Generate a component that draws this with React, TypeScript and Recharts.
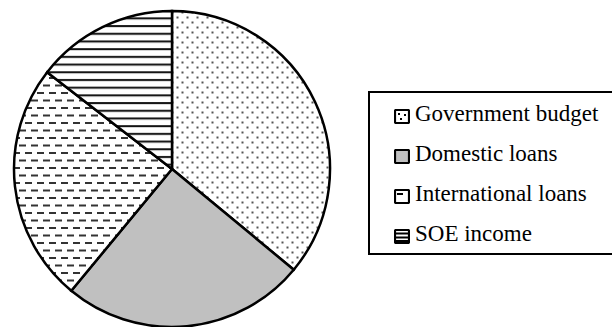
import { PieChart, Pie, Cell, Legend } from 'recharts';

// shares of financing
const categories = ['Government budget', 'Domestic loans', 'International loans', 'SOE income'];
const shares = [36, 25, 24.5, 14.5];
const fills = ['url(#dots)', '#c0c0c0', 'url(#dashes)', 'url(#hlines)'];

const chartData = categories.map((name, i) => ({ name, value: shares[i] }));

const serif = "'Liberation Serif', 'Times New Roman', Times, 'DejaVu Serif', serif";

function Patterns() {
  return (
    <svg width={0} height={0} style={{ position: 'absolute' }}>
      <defs>
        <pattern id="dots" patternUnits="userSpaceOnUse" width={10} height={10}>
          <rect width={10} height={10} fill="#fff" />
          <rect x={1.5} y={1.5} width={2} height={2} fill="#555" />
          <rect x={6.5} y={6.5} width={2} height={2} fill="#555" />
        </pattern>
        <pattern id="dashes" patternUnits="userSpaceOnUse" width={12} height={15}>
          <rect width={12} height={15} fill="#fff" />
          <rect x={1} y={2} width={7} height={2} fill="#333" />
          <rect x={7} y={9.5} width={7} height={2} fill="#333" />
          <rect x={-5} y={9.5} width={7} height={2} fill="#333" />
        </pattern>
        <pattern id="hlines" patternUnits="userSpaceOnUse" width={8} height={7.7}>
          <rect width={8} height={7.7} fill="#fff" />
          <rect y={2} width={8} height={2} fill="#111" />
        </pattern>
      </defs>
    </svg>
  );
}

function LegendIcon({ index }: { index: number }) {
  const box = <rect x={1} y={1} width={14} height={13} rx={1} fill="none" stroke="#000" strokeWidth={2.2} />;
  let inner = null;
  if (index === 0) {
    inner = (
      <g fill="#000">
        <rect x={4} y={4} width={2} height={2} />
        <rect x={10} y={5} width={2} height={2} />
        <rect x={6} y={9} width={2} height={2} />
      </g>
    );
  } else if (index === 1) {
    inner = <rect x={1} y={1} width={14} height={13} fill="#c0c0c0" />;
  } else if (index === 2) {
    inner = <rect x={3} y={4} width={6} height={2} fill="#000" />;
  } else {
    inner = (
      <g fill="#000">
        <rect x={1} y={3.5} width={14} height={2} />
        <rect x={1} y={7.5} width={14} height={2} />
        <rect x={1} y={11} width={14} height={2} />
      </g>
    );
  }
  return (
    <svg width={16} height={15} style={{ position: 'absolute', left: 24, top: 12 }}>
      {inner}
      {box}
    </svg>
  );
}

function LegendBox() {
  return (
    <div
      style={{
        position: 'relative',
        width: 250,
        height: 164,
        border: '2px solid #000',
        boxSizing: 'border-box',
        background: '#fff',
        fontFamily: serif,
        fontSize: 23,
        color: '#000',
      }}
    >
      {categories.map((name, i) => (
        <div key={name} style={{ position: 'absolute', left: 0, top: 4 + i * 40, height: 40, width: 248 }}>
          <LegendIcon index={i} />
          <span style={{ position: 'absolute', left: 45, top: 3, lineHeight: '28px', whiteSpace: 'nowrap', fontFamily: serif }}>
            {name}
          </span>
        </div>
      ))}
    </div>
  );
}

export default function App() {
  return (
    <div style={{ position: 'fixed', left: 0, top: 0, width: 612, height: 327, background: '#fff', overflow: 'hidden', fontFamily: serif }}>
      <Patterns />
      <PieChart width={612} height={327} margin={{ top: 0, right: 0, bottom: 0, left: 0 }}>
        <Pie
          data={chartData}
          dataKey="value"
          nameKey="name"
          cx={172}
          cy={169}
          outerRadius={158}
          startAngle={90}
          endAngle={-270}
          stroke="#000"
          strokeWidth={2.5}
          isAnimationActive={false}
        >
          {chartData.map((entry, i) => (
            <Cell key={`cell-${i}`} fill={fills[i]} />
          ))}
        </Pie>
        <Legend
          layout="vertical"
          align="right"
          verticalAlign="top"
          content={() => <LegendBox />}
          wrapperStyle={{ position: 'absolute', left: 368, top: 91, width: 250, height: 164 }}
        />
      </PieChart>
    </div>
  );
}
